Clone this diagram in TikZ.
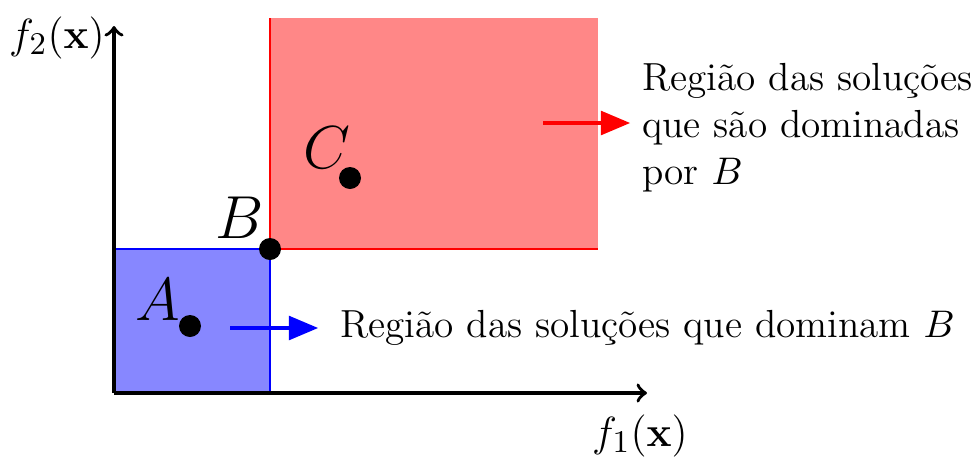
\documentclass[tikz,border=0pt]{standalone}
\usepackage{amsmath, amssymb}
\usepackage{tikz}
\usetikzlibrary{arrows,positioning}

\begin{document}
\begin{tikzpicture}[
    axis/.style={line width=1pt,->,>=to},
    regarrow/.style={line width=0.9pt,->,>=triangle 45},
    dot/.style={circle, fill=black, inner sep=0pt, minimum size=0.22cm},
    lbl/.style={font=\fontsize{13}{15}\selectfont},
    ptlbl/.style={font=\fontsize{16}{19}\selectfont},
    txt/.style={font=\fontsize{11.15}{13.4}\selectfont, align=left, anchor=west}
]
    \useasboundingbox (0,0) rectangle (9.75,4.58);
    % regions
    \fill [blue!47] (1.14,0.65) rectangle (2.70,2.09);
    \fill [red!47] (2.70,2.09) rectangle (5.98,4.40);
    \draw [thick, blue] (1.14,2.09) -- (2.70,2.09) -- (2.70,0.65);
    \draw [thick, red] (2.70,4.40) -- (2.70,2.09) -- (5.98,2.09);

    % axes
    \coordinate (o) at (1.14,0.65);
    \node (fy) at (0.57,4.20) [lbl] {$f_2(\mathbf{x})$};
    \node (fx) at (6.40,0.22) [lbl] {$f_1(\mathbf{x})$};
    \draw [axis] (o) -- (1.14,4.32);
    \draw [axis] (o) -- (6.47,0.65);

    % points
    \node (b) at (2.70,2.09) [dot] {};
    \node (a) at (1.90,1.32) [dot] {};
    \node (c) at (3.50,2.80) [dot] {};
    \node (lb) at (2.40,2.40) [ptlbl] {$B$};
    \node (la) at (1.58,1.58) [ptlbl] {$A$};
    \node (lc) at (3.27,3.10) [ptlbl] {$C$};

    % legends
    \node (tb) at (3.28,1.30) [txt] {Região das soluções que dominam $B$};
    \node (tr) at (6.30,3.30) [txt] {Região das soluções\\que são dominadas\\por $B$};
    \coordinate (sb) at (2.30,1.30);
    \coordinate (sr) at (5.43,3.35);
    \draw [regarrow, blue, shorten >=0.1cm] (sb) -- (tb.west);
    \draw [regarrow, red] (sr) -- (tr.west |- sr);
\end{tikzpicture}
\end{document}
